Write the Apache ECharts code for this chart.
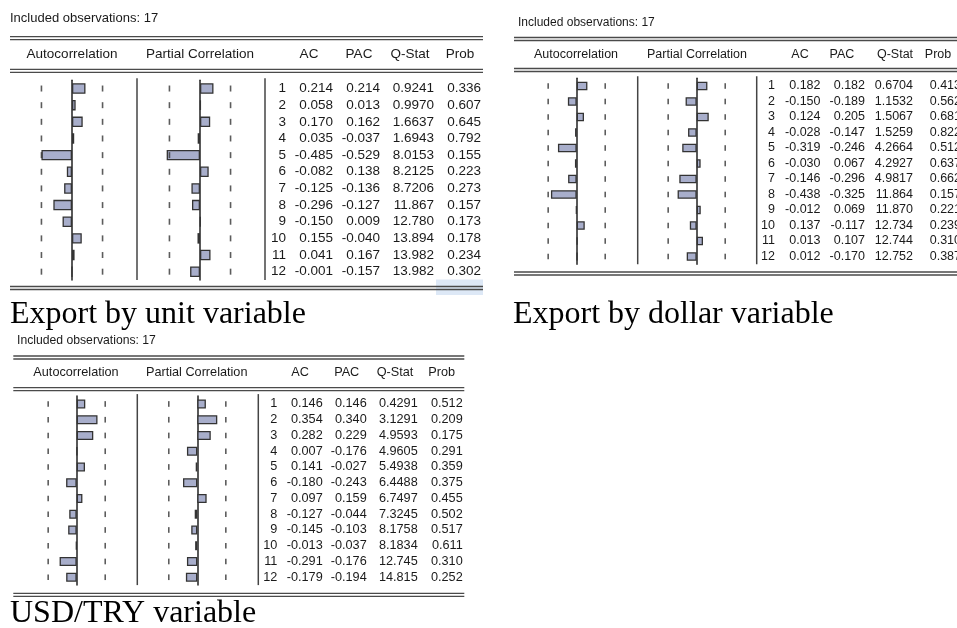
<!DOCTYPE html>
<html>
<head>
<meta charset="utf-8">
<script src="https://cdn.jsdelivr.net/npm/echarts@6/dist/echarts.min.js"></script>
<style>
  html, body { margin: 0; padding: 0; background: #fff; }
  #chart { width: 957px; height: 628px; }
</style>
</head>
<body>
<div id="chart"></div>
<script>
// correlogram data
const nObs = 17;
const lags = ['1', '2', '3', '4', '5', '6', '7', '8', '9', '10', '11', '12'];

const unitAC = [0.214, 0.058, 0.170, 0.035, -0.485, -0.082, -0.125, -0.296, -0.150, 0.155, 0.041, -0.001];
const unitPAC = [0.214, 0.013, 0.162, -0.037, -0.529, 0.138, -0.136, -0.127, 0.009, -0.040, 0.167, -0.157];
const unitQ = [0.9241, 0.9970, 1.6637, 1.6943, 8.0153, 8.2125, 8.7206, 11.867, 12.780, 13.894, 13.982, 13.982];
const unitProb = [0.336, 0.607, 0.645, 0.792, 0.155, 0.223, 0.273, 0.157, 0.173, 0.178, 0.234, 0.302];

const dollarAC = [0.182, -0.150, 0.124, -0.028, -0.319, -0.030, -0.146, -0.438, -0.012, 0.137, 0.013, 0.012];
const dollarPAC = [0.182, -0.189, 0.205, -0.147, -0.246, 0.067, -0.296, -0.325, 0.069, -0.117, 0.107, -0.170];
const dollarQ = [0.6704, 1.1532, 1.5067, 1.5259, 4.2664, 4.2927, 4.9817, 11.864, 11.870, 12.734, 12.744, 12.752];
const dollarProb = [0.413, 0.562, 0.681, 0.822, 0.512, 0.637, 0.662, 0.157, 0.221, 0.239, 0.310, 0.387];

const tryAC = [0.146, 0.354, 0.282, 0.007, 0.141, -0.180, 0.097, -0.127, -0.145, -0.013, -0.291, -0.179];
const tryPAC = [0.146, 0.340, 0.229, -0.176, -0.027, -0.243, 0.159, -0.044, -0.103, -0.037, -0.176, -0.194];
const tryQ = [0.4291, 3.1291, 4.9593, 4.9605, 5.4938, 6.4488, 6.7497, 7.3245, 8.1758, 8.1834, 12.745, 14.815];
const tryProb = [0.512, 0.209, 0.175, 0.291, 0.359, 0.375, 0.455, 0.502, 0.517, 0.611, 0.310, 0.252];

const captions = ['Export by unit variable', 'Export by dollar variable', 'USD/TRY variable'];
const headerText = 'Included observations: ' + nObs;
const colTitles = ['Autocorrelation', 'Partial Correlation', 'AC', 'PAC', 'Q-Stat', 'Prob'];

// 2/sqrt(T) bands
const bound = 2 / Math.sqrt(nObs);

// layout of the three pasted tables
const panels = [
  {
    ac: unitAC, pac: unitPAC, q: unitQ, prob: unitProb, caption: captions[0],
    font: 13.5, scale: 63, acZero: 72, pacZero: 200, top: 80.2, rowH: 16.65, barW: 10.5,
    sep1: 137, sep2: 265, cols: [286, 333, 380, 434, 481],
    hdr: [72, 200, 309, 359, 410, 460], hdrY: 54.3,
    inclX: 10, inclY: 18, x0: 10, x1: 483, dbl: [36.7, 69.3, 286.5],
    capX: 10, capY: 315, highlight: true
  },
  {
    ac: dollarAC, pac: dollarPAC, q: dollarQ, prob: dollarProb, caption: captions[1],
    font: 12.5, scale: 58.8, acZero: 576.7, pacZero: 696.7, top: 78.25, rowH: 15.5, barW: 8.5,
    sep1: 637.7, sep2: 756.7, cols: [775, 820.5, 865, 913, 961],
    hdr: [576, 697, 800, 842, 895, 938], hdrY: 54.3,
    inclX: 518, inclY: 22.5, x0: 514, x1: 960, dbl: [37.5, 68.5, 272],
    capX: 513, capY: 315
  },
  {
    ac: tryAC, pac: tryPAC, q: tryQ, prob: tryProb, caption: captions[2],
    font: 12.7, scale: 58.8, acZero: 76.7, pacZero: 197.3, top: 396.1, rowH: 15.75, barW: 9,
    sep1: 137.3, sep2: 258.3, cols: [277.3, 322.7, 366.7, 417.7, 462.7],
    hdr: [76, 196.7, 300, 346.7, 395, 441.7], hdrY: 372.7,
    inclX: 17, inclY: 341, x0: 13.3, x1: 464.3, dbl: [356, 387.7, 593.3],
    capX: 10, capY: 614
  }
];

const barColor = '#a8aecb';
const edgeColor = '#333';
const textColor = '#1a1a1a';
const sans = '"Liberation Sans", Arial, sans-serif';
const serif = '"Liberation Serif", "Times New Roman", serif';

const fmt3 = v => v.toFixed(3);
const fmtQ = v => (v < 10 ? v.toFixed(4) : v.toFixed(3));

const grid = [], xAxis = [], yAxis = [], series = [], graphic = [];

panels.forEach((p, k) => {
  const h = p.rowH * lags.length;
  const barGrids = [
    { zero: p.acZero, vals: p.ac },
    { zero: p.pacZero, vals: p.pac }
  ];
  barGrids.forEach((g, j) => {
    const gi = grid.length;
    grid.push({ left: g.zero - p.scale, top: p.top, width: p.scale * 2, height: h });
    xAxis.push({ gridIndex: gi, type: 'value', min: -1, max: 1, show: false });
    yAxis.push({
      gridIndex: gi, type: 'category', data: lags, inverse: true,
      axisLine: { show: true, onZero: true, lineStyle: { color: '#222', width: 1.5 } },
      axisTick: { show: false }, axisLabel: { show: false }, splitLine: { show: false }
    });
    series.push({
      type: 'bar', xAxisIndex: gi, yAxisIndex: gi, data: g.vals,
      barWidth: p.barW, silent: true,
      itemStyle: { color: barColor, borderColor: edgeColor, borderWidth: 1.3 }
    });
    series.push({
      type: 'scatter', xAxisIndex: gi, yAxisIndex: gi, silent: true,
      symbol: 'rect', symbolSize: [1.6, p.rowH * 0.36],
      itemStyle: { color: '#333' },
      data: lags.flatMap((l, i) => [[-bound, i], [bound, i]])
    });
  });

  // numeric table, rows placed by its own category axis
  const ti = grid.length;
  grid.push({ left: p.sep2, top: p.top, width: p.cols[4] - p.sep2, height: h });
  xAxis.push({ gridIndex: ti, type: 'value', min: 0, max: 1, show: false });
  yAxis.push({ gridIndex: ti, type: 'category', data: lags, inverse: true, show: false });
  const font = 'normal ' + p.font + 'px ' + sans;
  series.push({
    type: 'custom', xAxisIndex: ti, yAxisIndex: ti, silent: true,
    data: lags.map((l, i) => [0, i]),
    renderItem: (params, api) => {
      const i = api.value(1);
      const y = api.coord([0, i])[1];
      const cells = [lags[i], fmt3(p.ac[i]), fmt3(p.pac[i]), fmtQ(p.q[i]), fmt3(p.prob[i])];
      return {
        type: 'group',
        children: cells.map((t, c) => ({
          type: 'text', x: p.cols[c], y: y,
          style: { text: t, font: font, fill: textColor, align: 'right', verticalAlign: 'middle' }
        }))
      };
    }
  });

  // decoration: rules, separators, headings
  if (p.highlight) {
    graphic.push({
      type: 'rect', z: -1, shape: { x: 436, y: 279.5, width: p.x1 - 436, height: 15.5 },
      style: { fill: '#dde8f6' }
    });
  }
  p.dbl.forEach(y => {
    [0, 3].forEach(d => graphic.push({
      type: 'line', z: 5,
      shape: { x1: p.x0, y1: y + d, x2: p.x1, y2: y + d },
      style: { stroke: '#4a4a4a', lineWidth: 1.3 }
    }));
  });
  [p.sep1, p.sep2].forEach(x => graphic.push({
    type: 'line', z: 5,
    shape: { x1: x, y1: p.top - 2, x2: x, y2: p.top + h },
    style: { stroke: '#444', lineWidth: 1.5 }
  }));
  colTitles.forEach((t, c) => graphic.push({
    type: 'text', z: 5, x: p.hdr[c], y: p.hdrY,
    style: { text: t, font: font, fill: textColor, align: 'center', verticalAlign: 'middle' }
  }));
  graphic.push({
    type: 'text', z: 5, x: p.inclX, y: p.inclY,
    style: { text: headerText, font: 'normal ' + (p.font - 0.5) + 'px ' + sans, fill: textColor, align: 'left', verticalAlign: 'middle' }
  });
  graphic.push({
    type: 'text', z: 5, x: p.capX, y: p.capY,
    style: { text: p.caption, font: 'normal 32px ' + serif, fill: '#000', align: 'left', verticalAlign: 'middle' }
  });
});

const myChart = echarts.init(document.getElementById('chart'));
myChart.setOption({
  animation: false,
  backgroundColor: '#fff',
  grid, xAxis, yAxis, series, graphic
});
</script>
</body>
</html>
